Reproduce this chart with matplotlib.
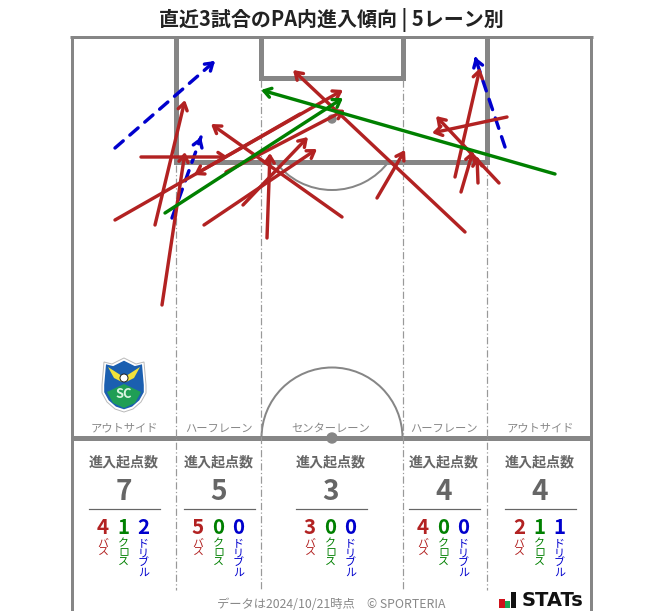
import matplotlib
matplotlib.use('Agg')
import numpy as np
import matplotlib.pyplot as plt
from matplotlib.patches import Arc, Circle, Polygon, Rectangle

plt.rcParams['font.family'] = ['Noto Sans CJK JP', 'DejaVu Sans']

# arrows (x0, y0, x1, y1) in image pixels
pass_x0 = [115, 155, 141, 162, 204, 243, 267, 226, 342, 465, 300, 377, 455, 461, 478, 499, 507]
pass_y0 = [220, 225, 157, 305, 225, 205, 238, 172, 217, 232, 114, 198, 177, 192, 183, 183, 117]
pass_x1 = [343, 185, 228, 185, 317, 308, 270, 345, 211, 293, 194, 405, 480, 473, 477, 436, 432]
pass_y1 = [90, 100, 157, 152, 149, 137, 153, 110, 124, 70, 175, 150, 68, 151, 156, 116, 133]
cross_x0 = [165, 555]
cross_y0 = [213, 174]
cross_x1 = [343, 261]
cross_y1 = [98, 90]
drib_x0 = [115, 172, 505]
drib_y0 = [148, 218, 147]
drib_x1 = [215, 201, 475]
drib_y1 = [61, 137, 57]

lane_names = ['アウトサイド', 'ハーフレーン', 'センターレーン', 'ハーフレーン', 'アウトサイド']
lane_x = [124, 219, 331, 444, 540]
totals = [7, 5, 3, 4, 4]
passes = [4, 5, 3, 4, 2]
crosses = [1, 0, 0, 0, 1]
dribbles = [2, 0, 0, 0, 1]

RED = '#b22222'
GREEN = '#008000'
BLUE = '#0000cd'
GREY = '#868686'
TXT = '#666666'


def px(n):
    # pixel width to points
    return n * 72 / 100


fig = plt.figure(figsize=(6.63, 6.11), dpi=100)
ax = fig.add_axes([0, 0, 1, 1])
ax.set_xlim(0, 663)
ax.set_ylim(611, 0)
ax.axis('off')

ax.text(331, 19.5, '直近3試合のPA内進入傾向 | 5レーン別', ha='center', va='center',
        fontsize=px(20), fontweight='bold', color='#222222')

# pitch
ax.plot([71.5, 71.5], [611, 37], color=GREY, lw=px(3), solid_capstyle='butt')
ax.plot([591, 591], [611, 37], color=GREY, lw=px(3), solid_capstyle='butt')
ax.plot([70, 592.5], [37, 37], color=GREY, lw=px(3), solid_capstyle='butt')
ax.plot([71, 591], [438, 438], color=GREY, lw=px(5), solid_capstyle='butt')
ax.plot([176, 176, 487, 487], [37, 162, 162, 37], color=GREY, lw=px(5),
        solid_joinstyle='miter', solid_capstyle='butt')
ax.plot([261, 261, 403, 403], [37, 78, 78, 37], color=GREY, lw=px(5),
        solid_joinstyle='miter', solid_capstyle='butt')
ax.add_patch(Arc((332, 438), 141, 141, theta1=180, theta2=360, color=GREY, lw=px(2)))
ax.add_patch(Arc((332, 119), 142, 142, theta1=36, theta2=144, color=GREY, lw=px(2)))
ax.add_patch(Circle((332, 119), 4, color=GREY))
ax.add_patch(Circle((332, 438), 5, color=GREY, zorder=3))

# lane separators
for x, top in zip([176, 261, 403, 487], [165, 80, 80, 165]):
    ax.plot([x, x], [top, 590], color='#999999', lw=px(1.2),
            linestyle=(0, (6, 2, 1, 2)))

# arrows
def arrow(x0, y0, x1, y1, color, dashed=False):
    if dashed:
        ax.plot([x0, x1], [y0, y1], color=color, lw=px(3.4), linestyle=(0, (3.2, 2.6)),
                dash_capstyle='round')
        t = 0.97
        x0, y0 = x1 + (x0 - x1) * (1 - t), y1 + (y0 - y1) * (1 - t)
    ax.annotate('', xy=(x1, y1), xytext=(x0, y0),
                arrowprops=dict(arrowstyle='->,head_length=0.5,head_width=0.33',
                                color=color, lw=px(3.4), shrinkA=0, shrinkB=0))


for a in zip(pass_x0, pass_y0, pass_x1, pass_y1):
    arrow(*a, RED)
for a in zip(cross_x0, cross_y0, cross_x1, cross_y1):
    arrow(*a, GREEN)
for a in zip(drib_x0, drib_y0, drib_x1, drib_y1):
    arrow(*a, BLUE, dashed=True)

# lane summaries
for i, x in enumerate(lane_x):
    ax.text(x, 428.5, lane_names[i], ha='center', va='center', fontsize=px(11.3), color='#888888')
    ax.text(x, 462.5, '進入起点数', ha='center', va='center', fontsize=px(14), fontweight='bold', color=TXT)
    ax.text(x, 492.5, str(totals[i]), ha='center', va='center', fontsize=px(28), fontweight='bold', color=TXT)
    ax.plot([x - 35, x + 36], [508.5, 508.5], color=TXT, lw=px(1.2))
    for dx, v, name, c in zip([-21, -0.5, 19.5], [passes[i], crosses[i], dribbles[i]],
                              ['バ\nス', 'ク\nロ\nス', 'ド\nリ\nブ\nル'], [RED, GREEN, BLUE]):
        ax.text(x + dx, 527, str(v), ha='center', va='center', fontsize=px(20.5), fontweight='bold', color=c)
        ax.text(x + dx, 538.5, name, ha='center', va='top', fontsize=px(11), color=c, linespacing=0.97)

# footer
ax.text(331, 604.5, 'データは2024/10/21時点\u3000© SPORTERIA', ha='center', va='center',
        fontsize=px(12.3), color='#888888')

# STATs logo
ax.add_patch(Rectangle((499, 599), 6, 9, color='#d0121b', lw=0))
ax.add_patch(Rectangle((505, 601), 5, 7, color='#1aa655', lw=0))
ax.add_patch(Rectangle((511, 592), 5, 16, color='#111111', lw=0))
ax.text(522, 600.5, 'STATs', ha='left', va='center', fontsize=px(19.5), fontweight='bold',
        color='#111111', family='DejaVu Sans')

# club crest, rough shape
crest_x = np.array([102, 104, 112, 124, 136, 144, 146, 146, 141, 133, 124, 115, 107, 102])
crest_y = np.array([385, 362, 364, 358, 364, 362, 385, 393, 402, 409, 412, 409, 402, 393])
ax.add_patch(Polygon(np.c_[crest_x, crest_y], closed=True, fc='#ffffff', ec='#bbbbbb', lw=px(1)))
ax.add_patch(Polygon(np.c_[(crest_x - 124) * 0.9 + 124, (crest_y - 385) * 0.9 + 385], closed=True,
                     fc='#1b5fb0', ec='none'))
ax.add_patch(Polygon([(107, 392), (124, 384), (141, 392), (135, 403), (124, 408), (113, 403)],
                     closed=True, fc='#1f9e55', ec='none'))
ax.add_patch(Polygon([(122, 376), (108, 367), (114, 378), (122, 382)], closed=True, fc='#f2e23a', ec='none'))
ax.add_patch(Polygon([(126, 376), (140, 367), (134, 378), (126, 382)], closed=True, fc='#f2e23a', ec='none'))
ax.add_patch(Circle((124, 378), 4, fc='#ffffff', ec='#222222', lw=px(1)))
ax.text(124, 394, 'SC', ha='center', va='center', fontsize=px(13), fontweight='bold', color='#d8f5e0')

fig.savefig('out.png', dpi=100)
